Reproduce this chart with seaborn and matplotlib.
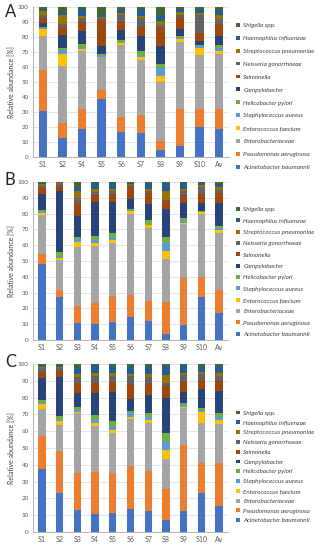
import matplotlib
matplotlib.use("Agg")
import matplotlib.pyplot as plt
import seaborn as sns
import numpy as np

# species, bottom of the stack first
species = ["Acinetobacter baumannii", "Pseudomonas aeruginosa", "Enterobacteriaceae",
           "Enterococcus faecium", "Staphylococcus aureus", "Helicobacter pylori",
           "Campylobacter", "Salmonella", "Neisseria gonorrhoeae",
           "Streptococcus pneumoniae", "Haemophilus influenzae", "Shigella spp."]
colors = ["#4472C4", "#ED7D31", "#A5A5A5", "#FFC000", "#5B9BD5", "#70AD47",
          "#264478", "#9E480E", "#636363", "#997300", "#255E91", "#43682B"]

samples_a = ["S1", "S2", "S4", "S5", "S6", "S7", "S8", "S9", "S10", "Av"]
samples_bc = ["S1", "S2", "S3", "S4", "S5", "S6", "S7", "S8", "S9", "S10", "Av"]

# rows follow `species`, columns follow the samples
values_a = [
    [31, 13, 19, 38.5, 17, 16, 4.5, 7.5, 20, 19],
    [27, 10, 13, 6.5, 10, 12, 6, 24.5, 12, 13],
    [22.5, 37.5, 39, 21.5, 48, 37, 39.5, 45, 36, 36.4],
    [5, 8.5, 1, 0.3, 1, 1.7, 4.2, 1.4, 5, 2.6],
    [0.7, 2.5, 0.5, 0.3, 0.3, 0.6, 5.1, 1.1, 1, 1.4],
    [0.8, 1.5, 3, 1.5, 2, 3.4, 2.7, 1.1, 1, 2],
    [2.5, 8.5, 8.5, 5.5, 6.7, 10, 11.8, 4.5, 2.3, 6.6],
    [3.5, 5, 6, 17, 5, 6.2, 12.2, 7.8, 5.6, 7.4],
    [2, 2.5, 3, 1.5, 4.5, 6, 2.2, 2.1, 11.5, 3.8],
    [2.5, 5.5, 1, 0.8, 1.2, 1, 2.3, 1.6, 1.8, 2.2],
    [1, 2.5, 5, 1, 3.3, 5, 4.3, 1.8, 2.7, 3.6],
    [1.5, 3, 1, 5.6, 1, 1.1, 5.2, 1.6, 1.1, 2],
]
values_b = [
    [48, 27, 11, 10, 11.5, 14.5, 12, 4, 9.5, 27, 17.3],
    [6.5, 4.5, 10.5, 13.5, 16.5, 14, 13, 20, 29.5, 13, 14.1],
    [24.5, 19, 37.5, 36, 33.5, 51.5, 46, 27.5, 34.2, 39.5, 36.5],
    [1.5, 1.5, 2.8, 1.7, 1.7, 1.6, 1.5, 5, 0.6, 1.2, 1.5],
    [0.5, 0.5, 2, 1.9, 1.5, 0.6, 0.6, 4.8, 1.5, 0.5, 1.3],
    [1.5, 3, 1.7, 2.7, 3.1, 0.9, 2.6, 3.6, 2.1, 0.5, 1.5],
    [10, 38.5, 13, 21.7, 19.6, 5.9, 10.6, 18.1, 9.1, 5.3, 14.7],
    [4, 3.5, 8.5, 4.3, 4.7, 8, 6.9, 4.7, 5.3, 5.7, 6.3],
    [1, 1.2, 2.6, 2.1, 2.1, 1, 1.1, 1, 2.5, 4.2, 1.5],
    [1, 0.5, 4.4, 1.9, 1.5, 0.5, 1.5, 5.3, 1.5, 1, 2.1],
    [0.8, 0.5, 3.1, 3.7, 3.8, 1, 3.4, 5.2, 3.8, 1.7, 2.2],
    [0.7, 0.3, 2.9, 0.5, 0.5, 0.5, 0.8, 0.8, 0.4, 0.4, 1],
]
values_c = [
    [37.5, 23.5, 13, 11, 11.5, 13.5, 12.5, 7, 12.5, 23.4, 15.7],
    [19.5, 25, 22.3, 24.5, 23.5, 26, 24, 18.3, 39.3, 17.5, 25.2],
    [16, 15.2, 35.3, 27.6, 23.7, 27.6, 28.6, 18.3, 21.8, 24.2, 23.4],
    [3.2, 2.4, 1, 1.6, 2, 1.6, 1.6, 5.3, 1, 6.5, 2.4],
    [0.4, 0.3, 1, 2, 2, 1.9, 1.6, 4.9, 1, 1, 1.6],
    [2, 2.7, 2, 2.9, 3.6, 1.4, 2.3, 4.9, 1.4, 1.4, 2.7],
    [12.9, 23.4, 7.9, 12.9, 17.2, 7, 10.9, 21.3, 6.5, 10.9, 13.1],
    [3.9, 3.5, 6.4, 6.4, 6, 8.9, 7, 6.9, 6.4, 5.6, 6],
    [2, 1.4, 3.6, 4, 3.4, 5, 4, 1.6, 3.6, 3.5, 2.8],
    [1, 1, 1.5, 1.5, 1.9, 0.9, 1.3, 5, 1.3, 1.4, 1.5],
    [1, 1, 4.4, 5, 4.2, 5, 5, 5.5, 4.6, 3.6, 4.4],
    [0.6, 0.6, 1.6, 0.6, 1, 1.2, 1.2, 1, 0.6, 1, 1.2],
]

sns.set_theme(style="white")
plt.rcParams["font.family"] = ["Lato", "DejaVu Sans"]

fig = plt.figure(figsize=(3.21, 5.5), dpi=100)

W, H = 321, 550
panels = [
    ("A", values_a, samples_a, (33, 229, 7, 157), 96.5, 1.21, 4),
    ("B", values_b, samples_bc, (33, 228, 182, 340), 272, 0.96, 172),
    ("C", values_c, samples_bc, (33, 228, 364, 532), 467, 0.72, 354),
]

for letter, vals, samples, (x0, x1, y0, y1), leg_y, spacing, let_y in panels:
    ax = fig.add_axes([x0 / W, 1 - y1 / H, (x1 - x0) / W, (y1 - y0) / H])
    cum = np.cumsum(np.array(vals, dtype=float), axis=0)
    # draw from the top of the stack down so lower segments cover higher ones
    for i in range(len(species) - 1, -1, -1):
        sns.barplot(x=samples, y=cum[i], color=colors[i], width=0.42,
                    saturation=1, ax=ax, label=species[i], zorder=3,
                    linewidth=0, edgecolor="none")
    ax.set_ylim(0, 100)
    ax.set_xlim(-0.5, len(samples) - 0.5)
    ax.set_yticks(range(0, 101, 10))
    ax.yaxis.grid(True, color="#D9D9D9", linewidth=0.5, zorder=0)
    ax.set_axisbelow(True)
    for s in ["top", "right"]:
        ax.spines[s].set_visible(False)
    for s in ["left", "bottom"]:
        ax.spines[s].set_color("#A6A6A6")
        ax.spines[s].set_linewidth(0.6)
    ax.tick_params(axis="both", labelsize=4.5, colors="#595959", length=1.5,
                   width=0.5, pad=1.5)
    ax.tick_params(axis="x", labelsize=5, pad=3, length=0)
    ax.set_xlabel("")
    ax.set_ylabel("Relative abundance [%]", fontsize=5, color="#404040", labelpad=2)

    handles, labels = ax.get_legend_handles_labels()
    leg = ax.legend(handles, labels, loc="center left",
                    bbox_to_anchor=(236 / W, 1 - leg_y / H),
                    bbox_transform=fig.transFigure, frameon=False,
                    fontsize=4.6, handlelength=0.55, handleheight=0.55,
                    handletextpad=0.6, labelspacing=spacing,
                    borderpad=0, borderaxespad=0)
    for t in leg.get_texts():
        t.set_fontstyle("italic")
        t.set_color("#404040")

    fig.text(5 / W, 1 - let_y / H, letter, fontsize=12, va="top", ha="left",
             color="#222222")

fig.savefig("out.png", dpi=100)
plt.close(fig)
